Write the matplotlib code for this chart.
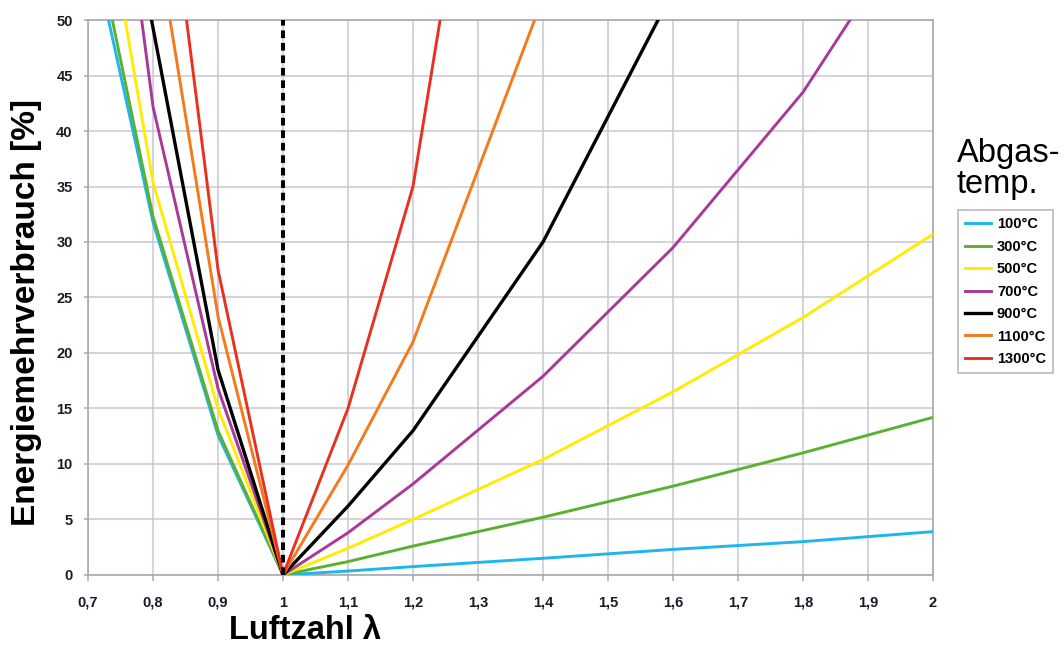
import matplotlib
matplotlib.use("Agg")
import matplotlib.pyplot as plt

plt.rcParams['font.family'] = ['Liberation Sans', 'DejaVu Sans']

# Luftzahl lambda (shared x positions of the data points)
lam = [0.7, 0.8, 0.9, 1.0, 1.1, 1.2, 1.4, 1.6, 1.8, 2.0]

# Energiemehrverbrauch [%] per Abgastemperatur (values > 50 are cut off by the axis)
t100 = [58.4, 31.8, 12.6, 0.0, 0.35, 0.75, 1.5, 2.3, 3.0, 3.9]
t300 = [60.6, 32.3, 13.0, 0.0, 1.2, 2.6, 5.2, 8.0, 11.0, 14.2]
t500 = [69.5, 35.4, 15.0, 0.0, 2.4, 5.0, 10.4, 16.5, 23.2, 30.7]
t700 = [87.0, 42.2, 16.8, 0.0, 3.8, 8.2, 17.9, 29.5, 43.5, 61.5]
t900 = [80.0, 49.3, 18.5, 0.0, 6.2, 13.0, 30.0, 52.6, 80.0, 110.0]
t1100 = [100.0, 59.5, 23.3, 0.0, 9.9, 21.0, 52.0, 90.0, 130.0, 170.0]
t1300 = [130.0, 74.0, 27.5, 0.0, 15.0, 35.0, 107.0, 180.0, 250.0, 320.0]

labels = ['100°C', '300°C', '500°C', '700°C', '900°C', '1100°C', '1300°C']
series = [t100, t300, t500, t700, t900, t1100, t1300]
colors = ['#1eb6ec', '#5cb030', '#ffec00', '#a8389a', '#000000', '#f47a1c', '#e83220']

xticks = [0.7, 0.8, 0.9, 1.0, 1.1, 1.2, 1.3, 1.4, 1.5, 1.6, 1.7, 1.8, 1.9, 2.0]
xticklabels = ['0,7', '0,8', '0,9', '1', '1,1', '1,2', '1,3', '1,4', '1,5', '1,6',
               '1,7', '1,8', '1,9', '2']
yticks = list(range(0, 55, 5))

fig = plt.figure(figsize=(10.64, 6.46), dpi=100)
ax = fig.add_axes([0.0827, 0.110, 0.7942, 0.859])

for vals, lab, col in zip(series, labels, colors):
    lw = 2.4 if col == '#000000' else 2.1
    ax.plot(lam, vals, color=col, lw=lw, label=lab, solid_joinstyle='round', zorder=3)

# stoichiometric line at lambda = 1
ax.plot([1, 1], [0, 50], color='black', lw=2.9, dashes=(1.9, 1.2), zorder=4)

ax.set_xlim(0.7, 2.0)
ax.set_ylim(0, 50)
ax.set_xticks(xticks)
ax.set_xticklabels(xticklabels)
ax.set_yticks(yticks)
ax.grid(True, color='#c9c6d3', lw=1.1)
ax.set_axisbelow(True)
for s in ax.spines.values():
    s.set_color('#a8a8ae')
    s.set_linewidth(1.2)
ax.tick_params(axis='x', length=4, width=1.1, color='#a8a8ae', pad=11)
ax.tick_params(axis='y', length=3, width=1.1, color='#a8a8ae', pad=8)
for t in ax.get_xticklabels() + ax.get_yticklabels():
    t.set_fontsize(10.5)
    t.set_fontweight('bold')
    t.set_color('#1a1a2a')

fig.text(305 / 1064, 1 - 639 / 646, 'Luftzahl λ', fontsize=23.5, fontweight='bold',
         ha='center', va='baseline')
fig.text(27 / 1064, 0.517, 'Energiemehrverbrauch [%]', rotation=90,
         fontsize=24, fontweight='bold', ha='center', va='center')

fig.text(0.8994, 0.7497, 'Abgas-', fontsize=23.5, va='baseline', ha='left')
fig.text(0.8994, 0.7012, 'temp.', fontsize=23.5, va='baseline', ha='left')

leg = fig.legend(loc='upper left', bbox_to_anchor=(0.900, 0.675), borderaxespad=0,
                 frameon=True, fancybox=False, handlelength=1.8, handletextpad=0.4,
                 labelspacing=0.58, borderpad=0.5,
                 prop={'size': 10.5, 'weight': 'bold'})
leg.get_frame().set_edgecolor('#a8a8ae')
leg.get_frame().set_linewidth(1.2)

fig.savefig('out.png', dpi=100)
